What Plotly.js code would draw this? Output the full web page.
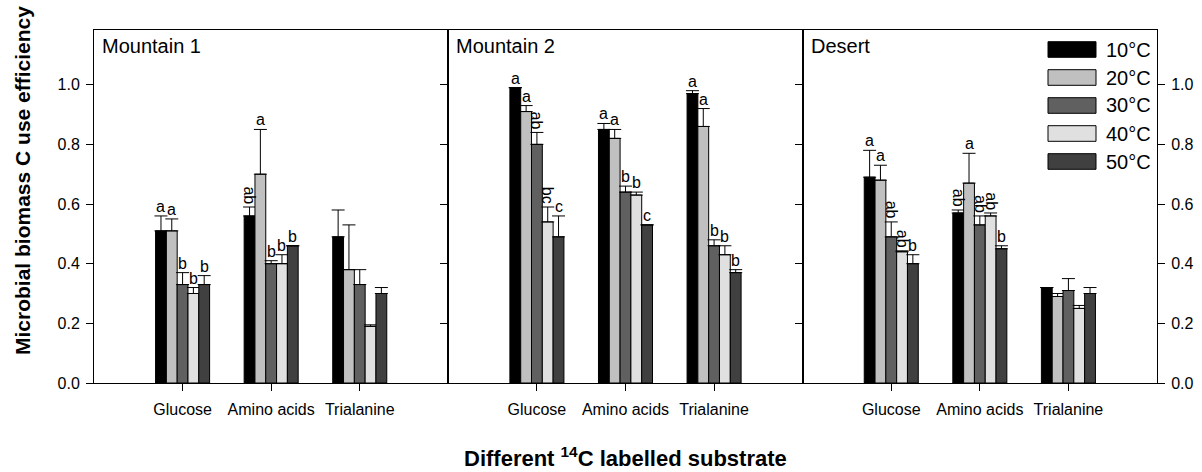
<!DOCTYPE html>
<html><head><meta charset="utf-8">
<script src="https://cdn.plot.ly/plotly-3.0.1.min.js"></script>
<style>html,body{margin:0;padding:0;background:#fff}#chart{width:1202px;height:472px}</style>
</head><body><div id="chart"></div>
<script>
const sites = ['Mountain 1', 'Mountain 2', 'Desert'];
const substrates = ['Glucose', 'Amino acids', 'Trialanine'];
const temps = ['10°C', '20°C', '30°C', '40°C', '50°C'];
const tempColors = ['#000000', '#c0c0c0', '#606060', '#e0e0e0', '#404040'];
const yTicks = [0, 0.2, 0.4, 0.6, 0.8, 1.0];

// rows: temperature (10..50 °C), columns: substrate (Glucose, Amino acids, Trialanine)
const mountain1Mean = [[0.51, 0.56, 0.49], [0.51, 0.70, 0.38], [0.33, 0.40, 0.33], [0.30, 0.40, 0.19], [0.33, 0.46, 0.30]];
const mountain1Err  = [[0.05, 0.03, 0.09], [0.04, 0.15, 0.15], [0.04, 0.01, 0.05], [0.02, 0.03, 0.005], [0.03, 0.0, 0.02]];
const mountain1Sig  = [['a', 'ab', ''], ['a', 'a', ''], ['b', 'b', ''], ['b', 'b', ''], ['b', 'b', '']];

const mountain2Mean = [[0.99, 0.85, 0.97], [0.91, 0.82, 0.86], [0.80, 0.64, 0.46], [0.54, 0.63, 0.43], [0.49, 0.53, 0.37]];
const mountain2Err  = [[0.0, 0.02, 0.01], [0.02, 0.03, 0.06], [0.04, 0.02, 0.02], [0.05, 0.01, 0.03], [0.07, 0.0, 0.01]];
const mountain2Sig  = [['a', 'a', 'a'], ['a', 'a', 'a'], ['ab', 'b', 'b'], ['bc', 'b', 'b'], ['c', 'c', 'b']];

const desertMean = [[0.69, 0.57, 0.32], [0.68, 0.67, 0.29], [0.49, 0.53, 0.31], [0.44, 0.56, 0.25], [0.40, 0.45, 0.30]];
const desertErr  = [[0.09, 0.01, 0.0], [0.05, 0.10, 0.01], [0.05, 0.03, 0.04], [0.003, 0.01, 0.01], [0.03, 0.01, 0.02]];
const desertSig  = [['a', 'ab', ''], ['a', 'a', ''], ['ab', 'ab', ''], ['ab', 'ab', ''], ['b', 'b', '']];

const means = [mountain1Mean, mountain2Mean, desertMean];
const errs = [mountain1Err, mountain2Err, desertErr];
const sigs = [mountain1Sig, mountain2Sig, desertSig];

const FONT = 'Arial, "Liberation Sans", Helvetica, sans-serif';
const W = 1202, H = 472;
const M = {l: 94, r: 45, t: 30, b: 89};
const PW = W - M.l - M.r, PH = H - M.t - M.b;
const px2x = px => (px - M.l) / PW;
const py2y = py => (H - M.b - py) / PH;
const BARGAP = 0.39;
const barW = (1 - BARGAP) / temps.length;

const data = [];
const annotations = [];
const shapes = [];
sites.forEach((site, s) => {
  const sfx = s === 0 ? '' : String(s + 1);
  temps.forEach((tp, t) => {
    data.push({
      type: 'bar', name: tp, x: substrates, y: means[s][t],
      xaxis: 'x' + sfx, yaxis: 'y' + sfx, showlegend: false,
      marker: {color: tempColors[t], line: {color: '#000', width: 1}},
      error_y: {type: 'data', symmetric: false, array: errs[s][t],
                arrayminus: errs[s][t].map(() => 0), color: '#000', thickness: 1, width: 6.5},
      hoverinfo: 'skip'
    });
    substrates.forEach((sub, c) => {
      const lab = sigs[s][t][c];
      if (!lab) return;
      annotations.push({
        xref: 'x' + sfx, yref: 'y' + sfx,
        x: c + (t - (temps.length - 1) / 2) * barW,
        y: means[s][t][c] + errs[s][t][c],
        text: lab, showarrow: false, yanchor: 'bottom', xanchor: 'center',
        textangle: lab.length > 1 ? 90 : 0,
        yshift: lab.length > 1 ? 1 : -1,
        font: {family: FONT, size: 16, color: '#000'}
      });
    });
  });
  annotations.push({
    xref: 'paper', yref: 'paper', x: s / 3, y: py2y(46), xshift: 6,
    xanchor: 'left', yanchor: 'middle', showarrow: false, text: site,
    font: {family: FONT, size: 20, color: '#000'}
  });
});

// legend (drawn in panel 3)
temps.forEach((tp, t) => {
  const cy = 49.5 + t * 28;
  shapes.push({
    type: 'rect', xref: 'paper', yref: 'paper',
    x0: px2x(1048), x1: px2x(1096), y0: py2y(cy - 7.8), y1: py2y(cy + 7.8),
    fillcolor: tempColors[t], line: {color: '#000', width: 1}
  });
  annotations.push({
    xref: 'paper', yref: 'paper', x: px2x(1104), y: py2y(cy),
    xanchor: 'left', yanchor: 'middle', showarrow: false, text: tp,
    font: {family: FONT, size: 20, color: '#000'}
  });
});

annotations.push({
  xref: 'paper', yref: 'paper', x: px2x(22), y: py2y(181),
  xanchor: 'center', yanchor: 'middle', showarrow: false, textangle: -90,
  text: '<b>Microbial biomass C use efficiency</b>',
  font: {family: FONT, size: 21, color: '#000'}
});
annotations.push({
  xref: 'paper', yref: 'paper', x: 0.5, y: py2y(457),
  xanchor: 'center', yanchor: 'middle', showarrow: false,
  text: '<b>Different <sup>14</sup>C labelled substrate</b>',
  font: {family: FONT, size: 22, color: '#000'}
});

const xAxisBase = s => ({
  domain: [s / 3, (s + 1) / 3], anchor: 'y' + (s === 0 ? '' : s + 1),
  type: 'category', range: [-1, 3], ticks: 'outside', ticklen: 7, tickwidth: 1,
  tickcolor: '#000', showline: true, linecolor: '#000', linewidth: 1, mirror: true,
  showgrid: false, zeroline: false, fixedrange: true, ticklabelstandoff: 5,
  tickfont: {family: FONT, size: 16, color: '#000'}
});
const yAxisBase = s => ({
  anchor: 'x' + (s === 0 ? '' : s + 1), range: [0, PH / 298.3],
  tickmode: 'array', tickvals: yTicks, ticktext: yTicks.map(v => v.toFixed(1)),
  ticks: 'outside', ticklen: 7, tickwidth: 1, tickcolor: '#000',
  showline: true, linecolor: '#000', linewidth: 1, mirror: true,
  showgrid: false, zeroline: false, fixedrange: true, ticklabelstandoff: 3,
  tickfont: {family: FONT, size: 16, color: '#000'}
});

const layout = {
  width: W, height: H, margin: M, paper_bgcolor: '#fff', plot_bgcolor: '#fff',
  barmode: 'group', bargap: BARGAP, bargroupgap: 0, showlegend: false,
  font: {family: FONT, color: '#000'},
  xaxis: xAxisBase(0), xaxis2: xAxisBase(1), xaxis3: xAxisBase(2),
  yaxis: Object.assign(yAxisBase(0), {side: 'left'}),
  yaxis2: Object.assign(yAxisBase(1), {side: 'left', showticklabels: false}),
  yaxis3: Object.assign(yAxisBase(2), {side: 'right', mirror: 'ticks'}),
  annotations: annotations, shapes: shapes
};

Plotly.newPlot('chart', data, layout, {displayModeBar: false, staticPlot: true});
</script>
</body></html>
